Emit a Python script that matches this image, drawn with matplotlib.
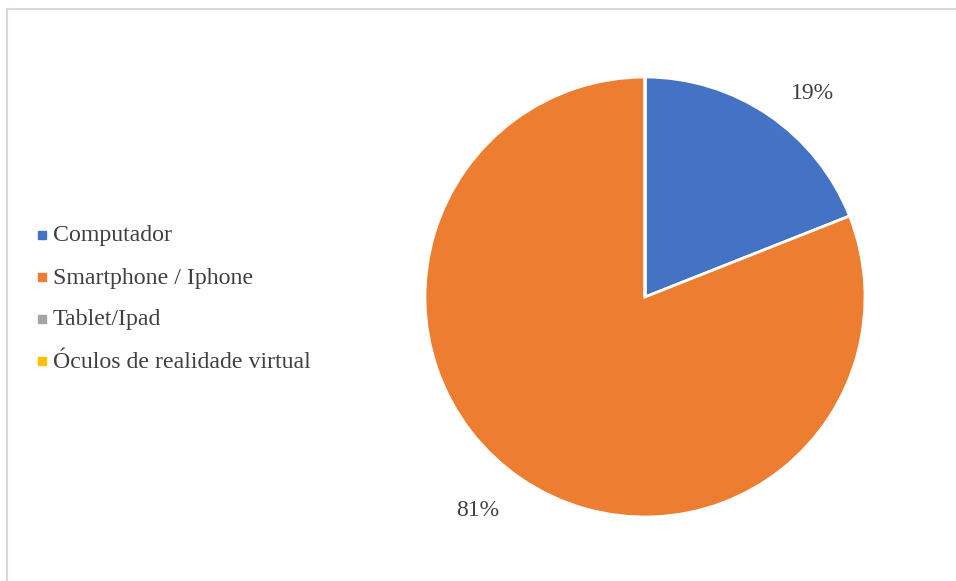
import matplotlib
matplotlib.use("Agg")
import numpy as np
import matplotlib.pyplot as plt
from matplotlib.lines import Line2D
from matplotlib.patches import Rectangle

plt.rcParams['font.family'] = ['Liberation Serif', 'DejaVu Serif']

categories = ["Computador", "Smartphone / Iphone", "Tablet/Ipad", "Óculos de realidade virtual"]
shares = [19, 81, 0, 0]
colors = ["#4472C4", "#ED7D31", "#A5A5A5", "#FFC000"]
text_color = "#404040"

W, H = 956, 581
fig = plt.figure(figsize=(W / 100, H / 100), dpi=100)

# chart-area border (top and left edges visible)
fig.add_artist(Line2D([7 / W, 1.0], [1 - 9 / H, 1 - 9 / H], color="#D9D9D9", lw=1.5))
fig.add_artist(Line2D([7 / W, 7 / W], [0.0, 1 - 9 / H], color="#D9D9D9", lw=1.5))

cx, cy, r = 645, 297, 220
ax = fig.add_axes([(cx - r) / W, (H - cy - r) / H, 2 * r / W, 2 * r / H])

def pct_label(p):
    return f"{p:.0f}%" if p > 0.5 else ""

wedges, texts, autotexts = ax.pie(
    shares, colors=colors, startangle=90, counterclock=False,
    autopct=pct_label, pctdistance=1.21,
    wedgeprops=dict(edgecolor="white", linewidth=2),
    textprops=dict(fontsize=17, color=text_color),
)

# place percentage labels just outside, nudged slightly clockwise ("best fit")
for w, t in zip(wedges, autotexts):
    mid = np.deg2rad((w.theta1 + w.theta2) / 2 - 4.5)
    t.set_position((1.215 * np.cos(mid), 1.215 * np.sin(mid) - 0.022))

ax.set_xlim(-1, 1)
ax.set_ylim(-1, 1)
ax.set_aspect("equal")
ax.axis("off")

# legend entries
y0, dy = 236, 42
for i, (name, col) in enumerate(zip(categories, colors)):
    y = y0 + i * dy
    fig.add_artist(Rectangle((38 / W, 1 - (y + 3) / H), 8 / W, 8 / H,
                             transform=fig.transFigure, color=col))
    fig.text(53 / W, 1 - y / H, name, fontsize=17.2, color=text_color,
             va="center", ha="left")

fig.savefig("out.png", dpi=100)
